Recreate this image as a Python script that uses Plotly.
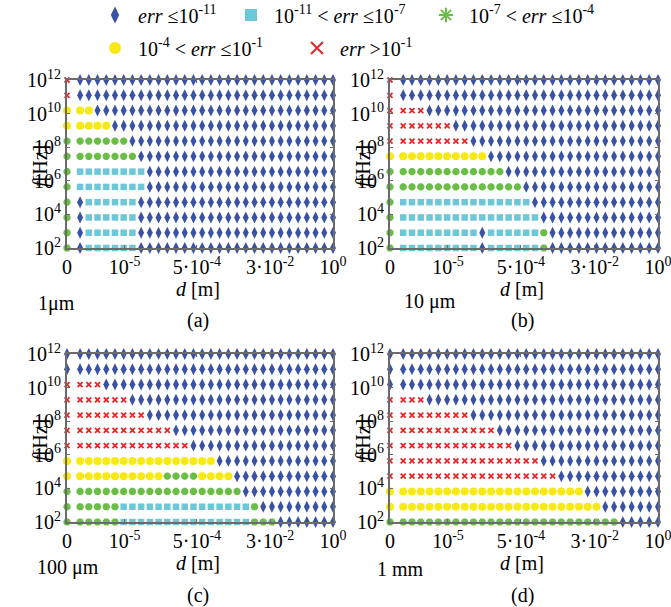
import plotly.graph_objects as go

# ---------------- data ----------------
# Grid of error classes: rows from f = 1e12 (top) to f = 1e2 (bottom),
# columns: d = 0 then 30 log-spaced d values up to 1 m.
# D: err<=1e-11, S: 1e-11<err<=1e-7, G: 1e-7<err<=1e-4, Y: 1e-4<err<=1e-1, R: err>1e-1
PANEL_A = [
    "R" + "D" * 30,
    "R" + "D" * 30,
    "Y" * 3 + "D" * 28,
    "Y" * 5 + "D" * 26,
    "G" * 7 + "D" * 24,
    "G" * 8 + "D" * 23,
    "G" + "S" * 8 + "D" * 22,
    "G" + "S" * 8 + "D" * 22,
    "G" + "D" + "S" * 6 + "D" * 23,
    "G" + "D" + "S" * 6 + "D" * 23,
    "G" + "D" + "S" * 6 + "D" * 23,
    "G" + "D" + "S" * 6 + "D" * 23,
]
PANEL_B = [
    "R" + "D" * 30,
    "R" + "D" * 30,
    "R" * 4 + "D" * 27,
    "R" * 7 + "D" * 24,
    "R" * 9 + "D" * 22,
    "Y" * 11 + "D" * 20,
    "G" * 13 + "D" * 18,
    "G" * 15 + "D" * 16,
    "G" + "S" * 15 + "D" * 15,
    "G" + "S" * 16 + "D" * 14,
    "G" + "S" * 9 + "D" + "S" * 6 + "G" + "D" * 13,
    "G" + "S" * 9 + "D" + "S" * 6 + "G" + "D" * 13,
]
PANEL_C = [
    "D" * 31,
    "D" * 31,
    "R" * 4 + "D" * 27,
    "R" * 7 + "D" * 24,
    "R" * 9 + "D" * 22,
    "R" * 12 + "D" * 19,
    "R" * 14 + "D" * 17,
    "Y" * 17 + "D" * 14,
    "Y" * 11 + "G" * 4 + "Y" * 4 + "D" * 12,
    "G" * 20 + "D" * 11,
    "G" * 6 + "S" * 15 + "G" + "D" * 9,
    "G" * 6 + "S" * 15 + "G" * 3 + "D" * 7,
]
PANEL_D = [
    "D" * 31,
    "D" * 31,
    "D" * 31,
    "R" * 4 + "D" * 27,
    "R" * 9 + "D" * 22,
    "R" * 12 + "D" * 19,
    "R" * 14 + "D" * 17,
    "R" * 17 + "D" * 14,
    "R" * 19 + "D" * 12,
    "Y" * 22 + "D" * 9,
    "Y" * 24 + "D" * 7,
    "G" * 26 + "D" * 5,
]
PANELS = [PANEL_A, PANEL_B, PANEL_C, PANEL_D]
PANEL_SIZES = ["1\u03bcm", "10 \u03bcm", "100 \u03bcm", "1 mm"]
PANEL_TAGS = ["(a)", "(b)", "(c)", "(d)"]

CATEGORIES = ["D", "S", "G", "Y", "R"]
LEGEND_LABELS = {
    "D": "<i>err</i> \u226410<sup>-11</sup>",
    "S": "10<sup>-11</sup> &lt; <i>err</i> \u226410<sup>-7</sup>",
    "G": "10<sup>-7</sup> &lt; <i>err</i> \u226410<sup>-4</sup>",
    "Y": "10<sup>-4</sup> &lt; <i>err</i> \u226410<sup>-1</sup>",
    "R": "<i>err</i> &gt;10<sup>-1</sup>",
}
F_TICK_LABELS = ["10<sup>2</sup>", "10<sup>4</sup>", "10<sup>6</sup>",
                 "10<sup>8</sup>", "10<sup>10</sup>", "10<sup>12</sup>"]
D_TICK_LABELS = ["0", "10<sup>-5</sup>", "5\u00b710<sup>-4</sup>",
                 "3\u00b710<sup>-2</sup>", "10<sup>0</sup>"]

# ---------------- styles ----------------
FONT = "Liberation Serif"
W, H = 671, 607
STYLE = {
    "D": dict(symbol="diamond-tall", size=8.5, color="#3A52A3"),
    "S": dict(symbol="square", size=6.5, color="#6CC8D8"),
    "G": dict(symbol="asterisk-open", size=6, color="#6ABD45",
              line=dict(color="#6ABD45", width=2.5)),
    "Y": dict(symbol="circle", size=8, color="#F7EA14"),
    "R": dict(symbol="x-thin-open", size=5, color="#E8262A",
              line=dict(color="#E8262A", width=1.8)),
}
# plot-area boxes in pixels: (left, top, right, bottom)
BOXES = [(67, 80, 333, 248), (390, 80, 658, 248),
         (67, 354, 333, 522), (390, 354, 658, 522)]
NCOL = 31
NROW = 12
X_MAX = NCOL - 0.5
D_TICK_POS = [0, 6.6, 14.9, 23.3, X_MAX]
F_TICK_POS = [0, 2.2, 4.4, 6.6, 8.8, 11]

# legend item positions (symbol centre, pixels)
LEG_POS = {"D": (117, 15), "S": (253, 15), "G": (448, 15),
           "Y": (117, 48), "R": (319, 48)}


def col_pos(k):
    return 0 if k == 0 else k + 0.5


fig = go.Figure()
for p, grid in enumerate(PANELS):
    ax = "" if p == 0 else str(p + 1)
    for ci, cat in enumerate(CATEGORIES):
        xs, ys = [], []
        for r, row in enumerate(grid):
            for k, ch in enumerate(row):
                if ch == cat:
                    xs.append(col_pos(k))
                    ys.append(NROW - 1 - r)
        st = STYLE[cat]
        marker = dict(symbol=st["symbol"], size=st["size"], color=st["color"])
        if "line" in st:
            marker["line"] = st["line"]
        else:
            marker["line"] = dict(width=0)
        fig.add_trace(go.Scatter(
            x=xs, y=ys, mode="markers", marker=marker,
            xaxis="x" + ax, yaxis="y" + ax, cliponaxis=False,
            name=LEGEND_LABELS[cat], legendgroup=cat,
            showlegend=(p == 0),
            legend="legend" if ci == 0 else "legend" + str(ci + 1),
        ))

axis_common = dict(showline=True, mirror="ticks", linecolor="#6b6b6b",
                   linewidth=2, showgrid=False, zeroline=False,
                   ticks="inside", ticklen=3, tickcolor="#6b6b6b",
                   ticklabeloverflow="allow",
                   tickfont=dict(family=FONT, size=20, color="black"))
layout = dict(width=W, height=H,
              margin=dict(l=0, r=0, t=0, b=0, autoexpand=False),
              paper_bgcolor="white", plot_bgcolor="white",
              font=dict(family=FONT, size=20, color="black"))


def note(text, x, y, angle=0):
    return dict(text=text, x=x / W, y=1 - y / H, xref="paper", yref="paper",
                xanchor="center", yanchor="middle", showarrow=False,
                textangle=angle, font=dict(family=FONT, size=20, color="black"))


annotations = []
for p, (l, t, r, b) in enumerate(BOXES):
    ax = "" if p == 0 else str(p + 1)
    layout["xaxis" + ax] = dict(axis_common, domain=[l / W, r / W],
                                range=[0, X_MAX], tickvals=D_TICK_POS,
                                ticktext=D_TICK_LABELS,
                                anchor="y" + ax)
    layout["yaxis" + ax] = dict(axis_common, domain=[1 - b / H, 1 - t / H],
                                range=[0, NROW - 1], tickvals=F_TICK_POS,
                                ticktext=F_TICK_LABELS,
                                anchor="x" + ax)
    cx = (l + r) / 2
    annotations.append(note("<i>d</i> [m]", cx - 2, b + 41))
    annotations.append(note("<i>f</i>[Hz]", l - 27, (t + b) / 2 + 2, -90))
    annotations.append(note(PANEL_TAGS[p], cx - 2, b + 73))

size_pos = [(56, 303), (430, 301), (68, 567), (400, 569)]
for p, (x, y) in enumerate(size_pos):
    annotations.append(note(PANEL_SIZES[p], x, y))
layout["annotations"] = annotations

for ci, cat in enumerate(CATEGORIES):
    key = "legend" if ci == 0 else "legend" + str(ci + 1)
    sx, sy = LEG_POS[cat]
    layout[key] = dict(x=(sx - 25) / W, y=1 - sy / H, xanchor="left",
                       yanchor="middle", orientation="h", itemwidth=36,
                       itemsizing="constant", bgcolor="rgba(0,0,0,0)",
                       borderwidth=0,
                       font=dict(family=FONT, size=20, color="black"))

fig.update_layout(**layout)
fig.write_html("out.html")
